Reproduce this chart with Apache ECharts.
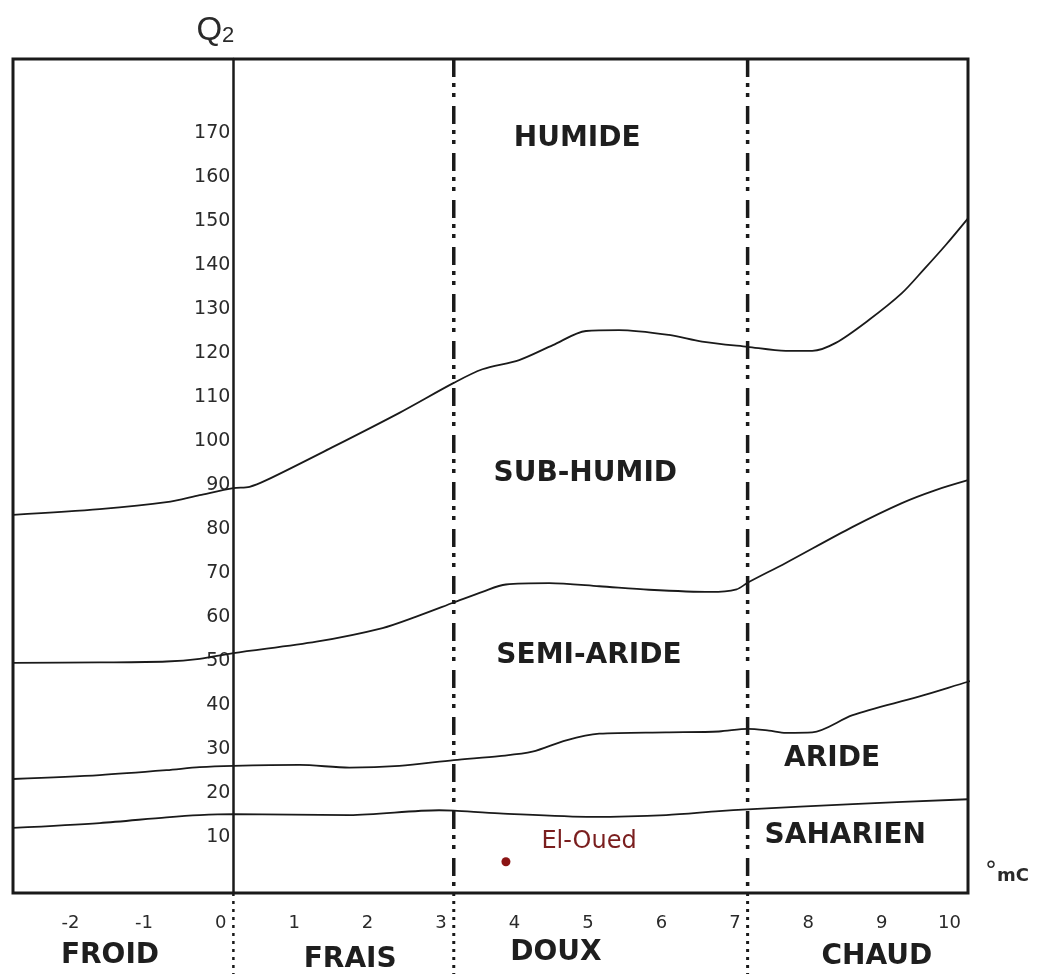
<!DOCTYPE html>
<html>
<head>
<meta charset="UTF-8">
<title>Climagramme d'Emberger - El-Oued</title>
<script src="https://cdn.jsdelivr.net/npm/echarts@6.0.0/dist/echarts.min.js"></script>
<style>
  html, body { margin: 0; padding: 0; background: #fff; }
  #view { width: 1040px; height: 974px; }
</style>
</head>
<body>
<div id="view"></div>
<script>
// tick labels
var xTicks = [-2, -1, 0, 1, 2, 3, 4, 5, 6, 7, 8, 9, 10];
var yTicks = [10, 20, 30, 40, 50, 60, 70, 80, 90, 100, 110, 120, 130, 140, 150, 160, 170];

// limits between the bioclimatic stages, [m (°C), Q2]
var humideLimit = [[-3, 83.2], [-1.82, 84.5], [-0.91, 86.1], [-0.46, 87.7], [0, 89.3], [0.22, 89.6],
    [0.45, 91.1], [1.35, 98.6], [2.26, 106.4], [3.0, 113.2], [3.39, 116.3], [3.89, 118.4], [4.35, 121.8],
    [4.8, 125.0], [5.25, 125.2], [5.93, 124.1], [6.38, 122.6], [7.0, 121.4], [7.52, 120.5], [7.88, 120.5],
    [8.2, 122.3], [8.65, 127.5], [9.1, 133.6], [9.4, 139.0], [9.7, 144.6], [10, 150.6]];
var subHumidLimit = [[-3, 49.6], [-1.82, 49.7], [-0.91, 49.9], [-0.46, 50.5], [0, 51.8], [1.13, 54.4],
    [2.03, 57.5], [2.49, 60.1], [3.0, 63.3], [3.4, 65.8], [3.71, 67.4], [4.3, 67.7], [4.98, 67.0],
    [5.66, 66.2], [6.5, 65.7], [6.85, 66.3], [7.0, 67.8], [7.52, 72.3], [8.43, 80.5], [9.1, 85.9],
    [9.55, 88.8], [10, 91.1]];
var semiAridLimit = [[-3, 23.2], [-1.82, 24.1], [-0.91, 25.2], [-0.46, 25.9], [0, 26.2], [0.9, 26.4],
    [1.58, 25.8], [2.26, 26.2], [3.0, 27.5], [3.62, 28.4], [4.07, 29.4], [4.53, 32.0], [4.98, 33.5],
    [5.89, 33.8], [6.61, 34.0], [7.0, 34.6], [7.29, 34.2], [7.52, 33.7], [7.88, 33.8], [8.43, 37.7],
    [9.33, 41.9], [10, 45.3], [10.27, 46.6]];
var aridLimit = [[-3, 12.1], [-1.82, 13.2], [-0.91, 14.5], [-0.46, 15.0], [0, 15.2], [1.58, 15.0],
    [2.8, 16.1], [3.0, 16.0], [3.62, 15.4], [4.89, 14.6], [5.89, 15.0], [6.61, 15.9], [7.0, 16.3],
    [8.43, 17.5], [10, 18.6]];

// winter variant boundaries (m)
var winterBounds = [3, 7];

// stage names and their anchor (m, Q2)
var stageNames = ['HUMIDE', 'SUB-HUMID', 'SEMI-ARIDE', 'ARIDE', 'SAHARIEN'];
var stageM = [4.68, 4.79, 4.84, 8.15, 8.33];
var stageQ = [168.8, 92.5, 51.2, 27.7, 10.3];

// winter variant names, written under the axis
var winterNames = ['FROID', 'FRAIS', 'DOUX', 'CHAUD'];
var winterM = [-1.68, 1.59, 4.39, 8.76];
var winterQ = [-17.0, -17.9, -16.3, -17.2];

// station
var stationName = 'El-Oued';
var stationM = 3.71;
var stationQ = 4.4;

var xMin = -3, xMax = 10, yMin = -2.7, yMax = 186.8, yBelow = -23;
var ink = '#1a1a1a';
var gridLeft = 13, gridRight = 72, chartWidth = 1040;

var myChart = echarts.init(document.getElementById('view'));

function curve(data, clip) {
    return {
        type: 'line', data: data, smooth: 0.3, symbol: 'none', clip: clip,
        silent: true, lineStyle: { color: ink, width: 1.8 }
    };
}

function vline(x, from, to, dash, width) {
    return {
        type: 'line', data: [[x, from], [x, to]], symbol: 'none', clip: false,
        silent: true, lineStyle: { color: ink, width: width, type: dash }
    };
}

function textPoints(names, ms, qs) {
    var out = [];
    for (var i = 0; i < names.length; i++) {
        out.push({ name: names[i], value: [ms[i], qs[i]] });
    }
    return out;
}

var boldLabel = {
    show: true, position: 'inside', formatter: '{b}',
    fontFamily: 'DejaVu Sans', fontWeight: 'bold', fontSize: 28, color: '#1e1e1e'
};

var series = [
    curve(humideLimit, true),
    curve(subHumidLimit, true),
    curve(semiAridLimit, false),   // runs a little past the frame on the right
    curve(aridLimit, true),
    // dotted part of the m = 0 axis below the frame
    vline(0, yMin, yBelow, [3, 5], 2.5)
];

// dash-dot-dot inside the frame, dotted below it
echarts.util.each(winterBounds, function (m) {
    series.push(vline(m, yMax, yMin, [18, 6, 4, 6, 4, 9], 3.5));
    series.push(vline(m, yMin, yBelow, [3, 5], 3));
});

series.push({
    type: 'scatter', silent: true, clip: false, symbolSize: 1,
    itemStyle: { color: 'transparent', opacity: 1 },
    data: textPoints(stageNames, stageM, stageQ),
    label: boldLabel
});

series.push({
    type: 'scatter', silent: true, clip: false, symbolSize: 1,
    itemStyle: { color: 'transparent', opacity: 1 },
    data: textPoints(winterNames, winterM, winterQ),
    label: boldLabel
});

series.push({
    type: 'scatter', silent: true, symbolSize: 9,
    itemStyle: { color: '#8b1414', opacity: 1 },
    data: [{ name: stationName, value: [stationM, stationQ] }],
    label: {
        show: true, position: 'right', distance: 31, offset: [0, -20], formatter: '{b}',
        fontFamily: 'DejaVu Sans', fontSize: 24, color: '#7a1e1e'
    }
});

// the Q2 axis stands at m = 0, inside the frame
var plotWidth = chartWidth - gridLeft - gridRight;
var yAxisOffset = -(0 - xMin) / (xMax - xMin) * plotWidth;

var option = {
    animation: false,
    backgroundColor: '#ffffff',
    grid: {
        left: gridLeft, top: 59, right: gridRight, bottom: 81,
        outerBoundsMode: 'none',
        show: true, borderColor: ink, borderWidth: 3
    },
    xAxis: {
        type: 'value', min: xMin, max: xMax,
        axisLine: { show: false, onZero: false },
        axisTick: { show: false },
        splitLine: { show: false },
        axisLabel: {
            customValues: xTicks, align: 'right', padding: [0, 7, 0, 0], margin: 21,
            fontFamily: 'DejaVu Sans', fontSize: 18, color: '#2a2a2a'
        },
        name: '{d|°}{u|mC}', nameLocation: 'end', nameGap: 17,
        nameTextStyle: {
            padding: [0, 0, 40, 0],
            rich: {
                d: { fontFamily: 'DejaVu Sans', fontSize: 24, color: '#2a2a2a', verticalAlign: 'top' },
                u: { fontFamily: 'DejaVu Sans', fontWeight: 'bold', fontSize: 18, color: '#2a2a2a', verticalAlign: 'bottom' }
            }
        }
    },
    yAxis: {
        type: 'value', min: yMin, max: yMax,
        position: 'left', offset: yAxisOffset,
        axisLine: { show: true, onZero: false, lineStyle: { color: ink, width: 2.5 } },
        axisTick: { show: false },
        splitLine: { show: false },
        axisLabel: {
            customValues: yTicks, margin: 3,
            fontFamily: 'DejaVu Sans', fontSize: 19, color: '#2a2a2a'
        },
        name: '{q|Q}{s|2}', nameLocation: 'end', nameGap: 12,
        nameTextStyle: {
            padding: [0, 36, 0, 0],
            rich: {
                q: { fontFamily: 'Liberation Sans', fontSize: 33, color: '#2a2a2a', verticalAlign: 'bottom' },
                s: { fontFamily: 'Liberation Sans', fontSize: 22, color: '#2a2a2a', verticalAlign: 'bottom' }
            }
        }
    },
    series: series
};

myChart.setOption(option);
</script>
</body>
</html>
